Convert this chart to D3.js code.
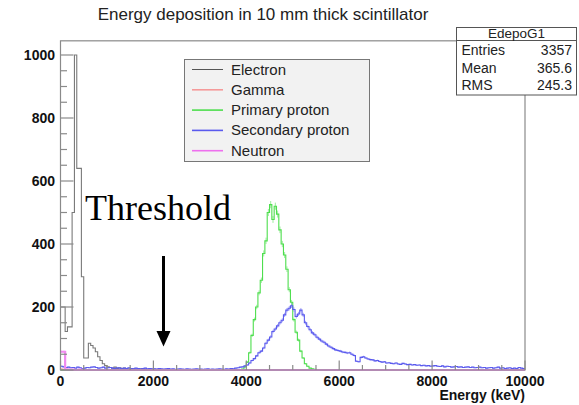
<!DOCTYPE html>
<html>
<head>
<meta charset="utf-8">
<script src="https://cdn.jsdelivr.net/npm/d3@7/dist/d3.min.js"></script>
<style>
  html, body { margin: 0; padding: 0; background: #fff; }
  svg { display: block; }
</style>
</head>
<body>
<svg id="chart" width="579" height="405"></svg>
<script>
// Energy deposition spectra, 50 keV bins from 0 to 10000 keV.
// Each series lists its counts starting at the given bin index; other bins are empty.
const binWidth = 50;
const nBins = 200;

const electronStart = 0;
const electronCounts = [200, 200, 122, 137, 137, 500, 1000, 640, 640, 296,
  38, 38, 85, 78, 70, 58, 42, 30, 20, 14,
  10, 8, 6, 9, 5, 7, 4, 6, 5, 3,
  5, 4, 3, 2, 4, 2, 3, 1, 2, 1,
  2, 1, 0, 1, 1, 0, 1];

const gammaStart = 0;
const gammaCounts = [3, 2, 1, 1, 0, 1];

const primaryStart = 78;
const primaryCounts = [3, 10, 25, 55, 110, 160, 200, 245, 285, 370,
  410, 500, 525, 478, 520, 495, 445, 400, 365, 320,
  255, 215, 160, 120, 95, 60, 38, 20, 12, 6,
  4, 2, 1];

const secondaryStart = 0;
const secondaryCounts = [12, 10, 8, 9, 7, 8, 6, 9, 7, 5, 6, 8, 7, 9, 10, 8, 6, 7, 9, 6,
  7, 8, 6, 5, 7, 6, 4, 6, 5, 7, 5, 4, 6, 5, 3, 5, 6, 4, 5, 4,
  4, 3, 5, 4, 3, 4, 5, 3, 4, 2, 3, 4, 3, 2, 4, 3, 2, 3, 4, 3,
  3, 2, 3, 4, 2, 3, 2, 3, 4, 3, 2, 4, 3, 5, 4, 6, 7, 9,
  10, 13, 16, 22, 30, 36, 45, 55, 60, 70,
  85, 95, 105, 122, 130, 140, 150, 158, 175, 190,
  196, 204, 192, 170, 178, 190, 175, 150, 138, 128,
  118, 112, 104, 98, 92, 88, 82, 76, 72, 68,
  64, 62, 60, 57, 56, 54, 55, 50, 46, 28,
  26, 40, 42, 38, 35, 33, 32, 29, 30, 27,
  25, 26, 22, 23, 21, 20, 22, 19, 18, 21,
  19, 17, 18, 16, 17, 15, 16, 14, 15, 13,
  14, 12, 13, 14, 12, 11, 13, 10, 12, 11,
  9, 10, 11, 9, 10, 8, 9, 10, 8, 9,
  7, 8, 9, 7, 8, 6, 7, 8, 6, 7,
  9, 6, 7, 5, 6, 7, 5, 6, 5, 8, 6, 5];

const neutronStart = 0;
const neutronCounts = [58, 58, 2, 1, 0, 1, 0, 0, 1];

const seriesNames = ["Electron", "Gamma", "Primary proton", "Secondary proton", "Neutron"];
const seriesColors = ["#555555", "#f59a9a", "#4ede4e", "#5a5aee", "#ee70ee"];
const seriesStroke = ["#7a7a7a", "#f59a9a", "#4ede4e", "#5a5aee", "#f08af0"];

const xTicks = [0, 2000, 4000, 6000, 8000, 10000];
const yTicks = [0, 200, 400, 600, 800, 1000];

const statsTitle = "EdepoG1";
const statsLabels = ["Entries", "Mean", "RMS"];
const statsValues = ["3357", "365.6", "245.3"];

const svg = d3.select("#chart");
const x = d3.scaleLinear().domain([0, 10000]).range([60.5, 525]);
const y = d3.scaleLinear().domain([0, 1000]).range([370, 55]);
const yTop = 1045;

function fullBins(start, counts) {
  const arr = new Array(nBins).fill(0);
  counts.forEach((c, i) => { if (start + i < nBins) arr[start + i] = c; });
  return arr;
}

const series = [
  fullBins(electronStart, electronCounts),
  fullBins(gammaStart, gammaCounts),
  fullBins(primaryStart, primaryCounts),
  fullBins(secondaryStart, secondaryCounts),
  fullBins(neutronStart, neutronCounts)
];
const withErrors = [false, true, true, true, true];

// Title
svg.append("text")
  .attr("x", 263).attr("y", 20)
  .attr("text-anchor", "middle")
  .attr("font-family", "Liberation Sans, Arial, sans-serif")
  .attr("font-size", 17)
  .attr("fill", "#222")
  .text("Energy deposition in 10 mm thick scintillator");

// Histograms
const line = d3.line()
  .x(d => x(d[0]))
  .y(d => y(d[1]))
  .curve(d3.curveStepAfter);

const plot = svg.append("g");
series.forEach((vals, s) => {
  const pts = vals.map((v, i) => [i * binWidth, v]);
  pts.push([nBins * binWidth, vals[nBins - 1]]);
  if (withErrors[s]) {
    plot.append("g")
      .selectAll("line")
      .data(vals.map((v, i) => [i, v]).filter(d => d[1] > 0))
      .join("line")
      .attr("x1", d => x((d[0] + 0.5) * binWidth))
      .attr("x2", d => x((d[0] + 0.5) * binWidth))
      .attr("y1", d => y(d[1] + Math.sqrt(d[1]) * 0.5))
      .attr("y2", d => y(Math.max(0, d[1] - Math.sqrt(d[1]) * 0.5)))
      .attr("stroke", seriesStroke[s])
      .attr("stroke-opacity", 0.55)
      .attr("stroke-width", 1);
  }
  plot.append("path")
    .datum(pts)
    .attr("d", line)
    .attr("fill", "none")
    .attr("stroke", seriesStroke[s])
    .attr("stroke-width", s === 4 ? 2.2 : 1.1);
});

// Frame
svg.append("rect")
  .attr("x", x(0)).attr("y", y(yTop))
  .attr("width", x(10000) - x(0)).attr("height", y(0) - y(yTop))
  .attr("fill", "none")
  .attr("stroke", "#8a8a8a")
  .attr("stroke-width", 1.2);

// Y axis ticks (inside frame) and labels
const yAxis = svg.append("g").attr("stroke", "#8a8a8a").attr("stroke-width", 1.2);
d3.range(0, yTop + 1, 50).forEach(v => {
  const major = v % 200 === 0;
  yAxis.append("line")
    .attr("x1", x(0)).attr("x2", x(0) + (major ? 13 : 6.5))
    .attr("y1", y(v)).attr("y2", y(v));
});
svg.append("g")
  .selectAll("text")
  .data(yTicks)
  .join("text")
  .attr("x", 55).attr("y", d => y(d) + 5)
  .attr("text-anchor", "end")
  .attr("font-family", "Liberation Sans, Arial, sans-serif")
  .attr("font-weight", "bold")
  .attr("font-size", 14)
  .attr("fill", "#111")
  .text(d => d);

// X axis ticks and labels
const xAxis = svg.append("g").attr("stroke", "#8a8a8a").attr("stroke-width", 1.2);
d3.range(0, 10001, 500).forEach(v => {
  const major = v % 2000 === 0;
  xAxis.append("line")
    .attr("x1", x(v)).attr("x2", x(v))
    .attr("y1", y(0)).attr("y2", y(0) - (major ? 9.5 : 5));
});
svg.append("g")
  .selectAll("text")
  .data(xTicks)
  .join("text")
  .attr("x", d => x(d)).attr("y", 385.5)
  .attr("text-anchor", "middle")
  .attr("font-family", "Liberation Sans, Arial, sans-serif")
  .attr("font-weight", "bold")
  .attr("font-size", 14)
  .attr("fill", "#111")
  .text(d => d);

svg.append("text")
  .attr("x", 525).attr("y", 400)
  .attr("text-anchor", "end")
  .attr("font-family", "Liberation Sans, Arial, sans-serif")
  .attr("font-weight", "bold")
  .attr("font-size", 14)
  .attr("fill", "#111")
  .text("Energy (keV)");

// Legend
const legend = svg.append("g");
legend.append("rect")
  .attr("x", 184.5).attr("y", 59.5).attr("width", 185).attr("height", 102)
  .attr("fill", "#f2f2f2").attr("stroke", "#777").attr("stroke-width", 1);
seriesNames.forEach((name, i) => {
  const cy = 69.5 + i * 20.3;
  legend.append("line")
    .attr("x1", 192).attr("x2", 223)
    .attr("y1", cy).attr("y2", cy)
    .attr("stroke", seriesColors[i])
    .attr("stroke-width", i === 0 ? 1 : 1.6);
  legend.append("text")
    .attr("x", 231).attr("y", cy + 5)
    .attr("font-family", "Liberation Sans, Arial, sans-serif")
    .attr("font-size", 15)
    .attr("fill", "#222")
    .text(name);
});

// Statistics box
const stats = svg.append("g").attr("font-family", "Liberation Sans, Arial, sans-serif").attr("fill", "#222");
stats.append("rect")
  .attr("x", 456.5).attr("y", 27.5).attr("width", 120).attr("height", 67.5)
  .attr("fill", "#fff").attr("stroke", "#555").attr("stroke-width", 1);
stats.append("line")
  .attr("x1", 456.5).attr("x2", 576.5).attr("y1", 40.5).attr("y2", 40.5)
  .attr("stroke", "#555").attr("stroke-width", 1);
stats.append("text")
  .attr("x", 516.5).attr("y", 37.5).attr("text-anchor", "middle")
  .attr("font-size", 13.5).text(statsTitle);
statsLabels.forEach((lab, i) => {
  stats.append("text").attr("x", 461.5).attr("y", 55 + i * 17.5)
    .attr("font-size", 14).text(lab);
  stats.append("text").attr("x", 572).attr("y", 55 + i * 17.5)
    .attr("text-anchor", "end").attr("font-size", 14).text(statsValues[i]);
});

// Threshold annotation
svg.append("text")
  .attr("x", 85).attr("y", 220)
  .attr("font-family", "Liberation Serif, Times New Roman, serif")
  .attr("font-size", 36)
  .attr("fill", "#000")
  .text("Threshold");
svg.append("line")
  .attr("x1", 163.5).attr("x2", 163.5)
  .attr("y1", 256).attr("y2", 333)
  .attr("stroke", "#000").attr("stroke-width", 3);
svg.append("path")
  .attr("d", "M156.5,331 L170.5,331 L163.5,346.5 Z")
  .attr("fill", "#000");
</script>
</body>
</html>
